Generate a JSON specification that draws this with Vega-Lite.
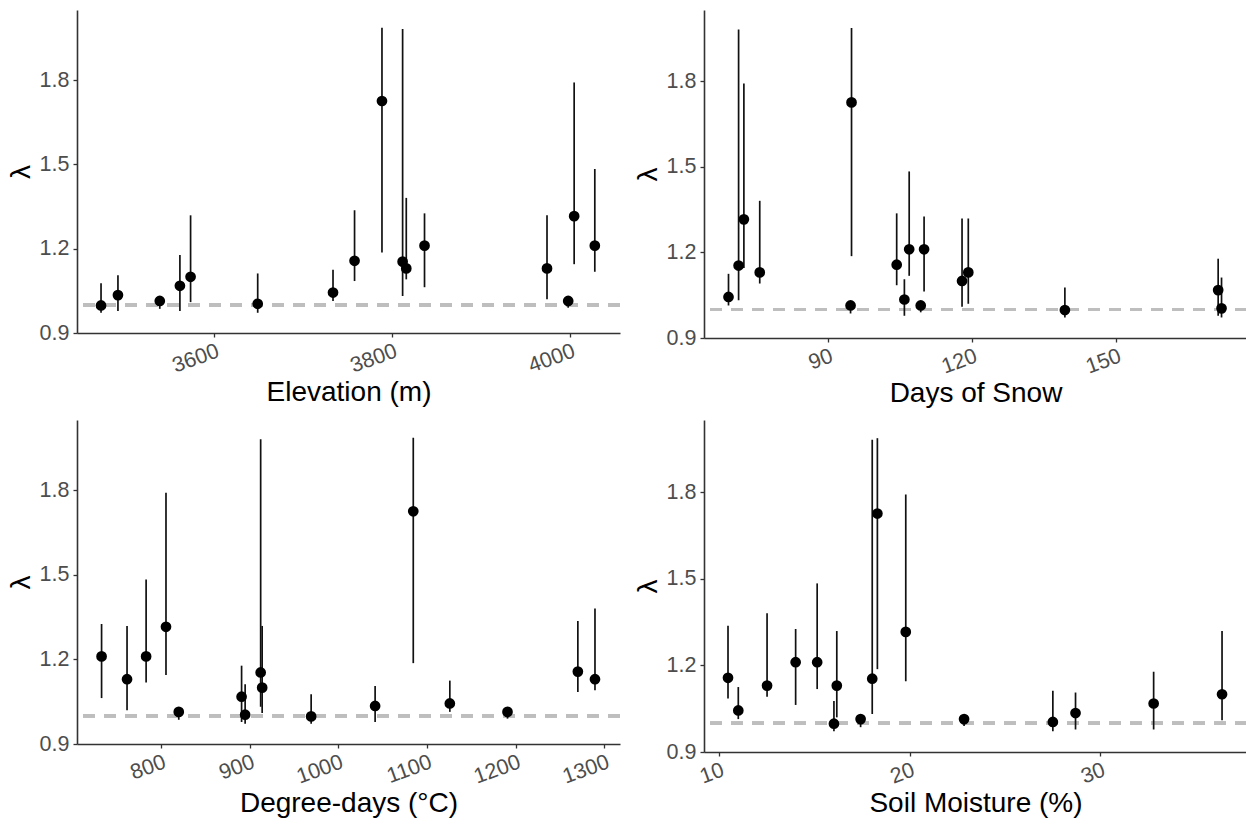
{
  "$schema": "https://vega.github.io/schema/vega-lite/v6.json",
  "background": "white",
  "padding": {"left": 7, "top": 10, "right": 0, "bottom": 0},
  "data": {"values": [
    {"site": "A", "elev": 3473, "snow": 139.3, "dd": 969.4, "sm": 16.02, "lam": 0.998, "lo": 0.972, "hi": 1.077},
    {"site": "B", "elev": 3492, "snow": 105.9, "dd": 1041.5, "sm": 28.70, "lam": 1.035, "lo": 0.978, "hi": 1.106},
    {"site": "C", "elev": 3539, "snow": 94.7, "dd": 820.2, "sm": 17.42, "lam": 1.014, "lo": 0.986, "hi": 1.026},
    {"site": "D", "elev": 3561.6, "snow": 171.2, "dd": 891, "sm": 32.80, "lam": 1.068, "lo": 0.978, "hi": 1.178},
    {"site": "E", "elev": 3573.6, "snow": 117.9, "dd": 914.2, "sm": 36.39, "lam": 1.100, "lo": 1.010, "hi": 1.319},
    {"site": "F", "elev": 3649, "snow": 171.9, "dd": 895, "sm": 27.51, "lam": 1.004, "lo": 0.972, "hi": 1.112},
    {"site": "G", "elev": 3733.6, "snow": 69.3, "dd": 1125.7, "sm": 11.0, "lam": 1.044, "lo": 1.014, "hi": 1.125},
    {"site": "H", "elev": 3757.8, "snow": 104.3, "dd": 1270, "sm": 10.46, "lam": 1.157, "lo": 1.085, "hi": 1.337},
    {"site": "I", "elev": 3788.6, "snow": 94.9, "dd": 1084.5, "sm": 18.30, "lam": 1.726, "lo": 1.187, "hi": 1.987},
    {"site": "J", "elev": 3811.8, "snow": 71.4, "dd": 912.5, "sm": 18.03, "lam": 1.154, "lo": 1.032, "hi": 1.982},
    {"site": "K", "elev": 3815.9, "snow": 75.8, "dd": 1289.3, "sm": 12.51, "lam": 1.130, "lo": 1.091, "hi": 1.381},
    {"site": "L", "elev": 3836.4, "snow": 110.0, "dd": 733.2, "sm": 14.01, "lam": 1.211, "lo": 1.063, "hi": 1.326},
    {"site": "M", "elev": 3974, "snow": 119.2, "dd": 761.9, "sm": 16.17, "lam": 1.130, "lo": 1.020, "hi": 1.319},
    {"site": "N", "elev": 3997.8, "snow": 109.3, "dd": 1190.7, "sm": 22.85, "lam": 1.014, "lo": 0.990, "hi": 1.026},
    {"site": "O", "elev": 4004.5, "snow": 72.5, "dd": 805.8, "sm": 19.79, "lam": 1.316, "lo": 1.145, "hi": 1.792},
    {"site": "P", "elev": 4027.7, "snow": 106.9, "dd": 783.4, "sm": 15.14, "lam": 1.211, "lo": 1.118, "hi": 1.484}
  ]},
  "config": {
    "view": {"stroke": null},
    "axis": {
      "grid": false,
      "domainColor": "#333333",
      "domainWidth": 1.6,
      "tickColor": "#333333",
      "tickWidth": 1.3,
      "tickSize": 4,
      "labelColor": "#4d4d4d",
      "labelFont": "Liberation Sans",
      "labelFontSize": 21.5,
      "titleFont": "Liberation Sans",
      "titleFontSize": 28,
      "titleFontWeight": "normal",
      "titleColor": "black"
    },
    "axisX": {"labelAngle": -20, "labelAlign": "right", "labelBaseline": "top", "labelPadding": 3, "titlePadding": 2, "format": "d"},
    "axisY": {"titleFontSize": 28, "titlePadding": 4, "labelPadding": 4, "format": ".1f"}
  },
  "columns": 2,
  "spacing": {"row": 12, "column": 12},
  "concat": [
    {
      "width": 543, "height": 323,
      "layer": [
        {"mark": {"type": "rule", "color": "#bebebe", "strokeDash": [12, 9], "strokeWidth": 3},
         "encoding": {"y": {"datum": 1, "type": "quantitative"}}},
        {"mark": {"type": "rule", "color": "#111111", "strokeWidth": 1.7},
         "encoding": {
           "x": {"field": "elev", "type": "quantitative", "title": "Elevation (m)",
                 "scale": {"domain": [3446, 4056], "nice": false, "zero": false},
                 "axis": {"values": [3600, 3800, 4000]}},
           "y": {"field": "lo", "type": "quantitative", "title": "λ",
                 "scale": {"domain": [0.9, 2.05], "nice": false, "zero": false},
                 "axis": {"values": [0.9, 1.2, 1.5, 1.8]}},
           "y2": {"field": "hi"}}},
        {"mark": {"type": "point", "filled": true, "color": "black", "size": 115, "opacity": 1},
         "encoding": {"x": {"field": "elev", "type": "quantitative"}, "y": {"field": "lam", "type": "quantitative"}}}
      ]
    },
    {
      "width": 543, "height": 328,
      "layer": [
        {"mark": {"type": "rule", "color": "#bebebe", "strokeDash": [12, 9], "strokeWidth": 3},
         "encoding": {"y": {"datum": 1, "type": "quantitative"}}},
        {"mark": {"type": "rule", "color": "#111111", "strokeWidth": 1.7},
         "encoding": {
           "x": {"field": "snow", "type": "quantitative", "title": "Days of Snow",
                 "scale": {"domain": [64.2, 177.2], "nice": false, "zero": false},
                 "axis": {"values": [90, 120, 150]}},
           "y": {"field": "lo", "type": "quantitative", "title": "λ",
                 "scale": {"domain": [0.9, 2.05], "nice": false, "zero": false},
                 "axis": {"values": [0.9, 1.2, 1.5, 1.8]}},
           "y2": {"field": "hi"}}},
        {"mark": {"type": "point", "filled": true, "color": "black", "size": 115, "opacity": 1},
         "encoding": {"x": {"field": "snow", "type": "quantitative"}, "y": {"field": "lam", "type": "quantitative"}}}
      ]
    },
    {
      "width": 543, "height": 324,
      "layer": [
        {"mark": {"type": "rule", "color": "#bebebe", "strokeDash": [12, 9], "strokeWidth": 3},
         "encoding": {"y": {"datum": 1, "type": "quantitative"}}},
        {"mark": {"type": "rule", "color": "#111111", "strokeWidth": 1.7},
         "encoding": {
           "x": {"field": "dd", "type": "quantitative", "title": "Degree-days (°C)",
                 "scale": {"domain": [705.5, 1317.5], "nice": false, "zero": false},
                 "axis": {"values": [800, 900, 1000, 1100, 1200, 1300]}},
           "y": {"field": "lo", "type": "quantitative", "title": "λ",
                 "scale": {"domain": [0.9, 2.05], "nice": false, "zero": false},
                 "axis": {"values": [0.9, 1.2, 1.5, 1.8]}},
           "y2": {"field": "hi"}}},
        {"mark": {"type": "point", "filled": true, "color": "black", "size": 115, "opacity": 1},
         "encoding": {"x": {"field": "dd", "type": "quantitative"}, "y": {"field": "lam", "type": "quantitative"}}}
      ]
    },
    {
      "width": 543, "height": 332,
      "layer": [
        {"mark": {"type": "rule", "color": "#bebebe", "strokeDash": [12, 9], "strokeWidth": 3},
         "encoding": {"y": {"datum": 1, "type": "quantitative"}}},
        {"mark": {"type": "rule", "color": "#111111", "strokeWidth": 1.7},
         "encoding": {
           "x": {"field": "sm", "type": "quantitative", "title": "Soil Moisture (%)",
                 "scale": {"domain": [9.2, 37.7], "nice": false, "zero": false},
                 "axis": {"values": [10, 20, 30]}},
           "y": {"field": "lo", "type": "quantitative", "title": "λ",
                 "scale": {"domain": [0.9, 2.05], "nice": false, "zero": false},
                 "axis": {"values": [0.9, 1.2, 1.5, 1.8]}},
           "y2": {"field": "hi"}}},
        {"mark": {"type": "point", "filled": true, "color": "black", "size": 115, "opacity": 1},
         "encoding": {"x": {"field": "sm", "type": "quantitative"}, "y": {"field": "lam", "type": "quantitative"}}}
      ]
    }
  ]
}
